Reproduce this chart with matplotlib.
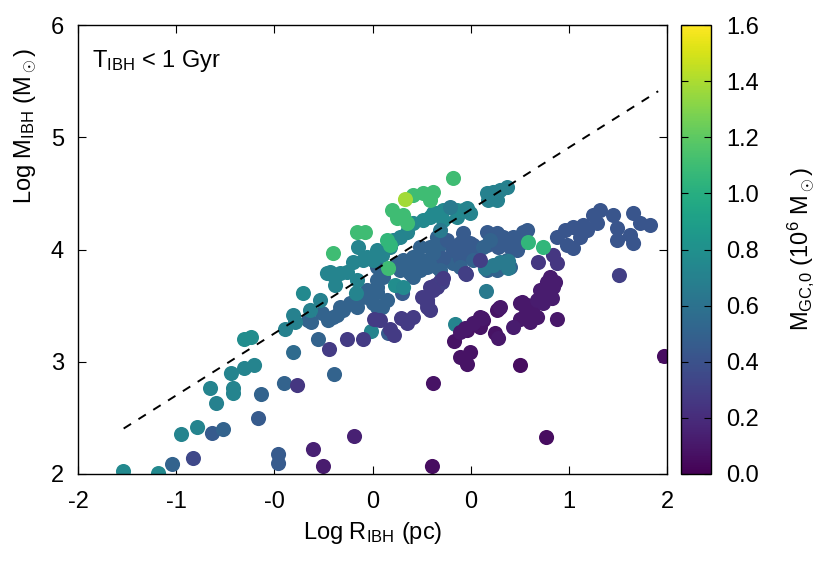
import matplotlib
matplotlib.use('Agg')
import matplotlib.pyplot as plt
import numpy as np

plt.rcParams['font.family'] = ['Liberation Sans', 'DejaVu Sans']
plt.rcParams['mathtext.fontset'] = 'custom'
plt.rcParams['mathtext.rm'] = 'Liberation Sans'
plt.rcParams['mathtext.it'] = 'Liberation Sans:italic'
plt.rcParams['mathtext.bf'] = 'Liberation Sans:bold'

# ---------------- data (Log R_IBH [pc], Log M_IBH [Msun], M_GC,0 [1e6 Msun]) ----------------
blue_r = [-1.358, -1.216, -1.087, -1.012, -0.754, -0.774, -0.598, -0.536, -0.435, -0.638, -0.638,
          -0.258, -0.367, 0.109, -0.414, -0.340, -0.299, -0.238, -0.197, -0.149, -0.102, -0.034,
          0.034, 0.068, 0.204, -0.217, -0.265, -0.102, 0.034, -0.034, 0.034, 0.034, 0.034, 0.075,
          0.034, 0.007, 0.102, 0.278, 0.238, 0.326, 0.441, 0.482, 0.394, 0.441, 0.326, 0.278,
          0.211, 0.170, 0.326, 0.374, 0.441, 0.509, 0.550, 0.618, 0.666, 0.598, 0.550, 0.618,
          0.666, 0.713, 0.781, 0.849, 0.890, 0.958, 1.025, 0.781, 0.856, 0.937, 0.985, 1.025,
          1.053, 0.509, 0.482, 0.598, 0.720, 0.686, 0.462, 0.598, 0.686, 0.754, 0.801, 0.917,
          0.849, 0.937, 0.781, 0.414, 0.374, 0.306, 0.258, 0.190]
blue_m = [2.085, 2.138, 2.361, 2.396, 2.708, 2.494, 2.806, 3.082, 3.367, 2.174, 2.093,
          2.886, 3.198, 3.252, 3.350, 3.430, 3.367, 3.412, 3.457, 3.519, 3.528, 3.572,
          3.617, 3.483, 3.608, 3.483, 3.394, 3.483, 3.483, 3.635, 3.661, 3.964, 3.840, 3.751,
          3.724, 3.519, 3.546, 3.751, 3.840, 3.813, 4.107, 4.053, 4.018, 3.964, 4.018, 3.929,
          3.902, 3.875, 3.902, 3.840, 3.840, 3.902, 3.875, 4.143, 4.053, 4.053, 3.991, 3.964,
          3.929, 3.947, 4.151, 4.143, 4.107, 4.107, 4.151, 4.036, 4.018, 4.018, 3.991, 4.062,
          4.169, 4.080, 3.920, 3.920, 3.929, 4.036, 3.813, 3.840, 3.902, 4.018, 4.080, 3.902,
          3.813, 3.840, 3.813, 3.964, 3.902, 3.875, 3.786, 3.813]
blue_c = [0.50, 0.35, 0.45, 0.50, 0.50, 0.45, 0.50, 0.55, 0.50, 0.45, 0.45,
          0.50, 0.50, 0.45, 0.50, 0.50, 0.50, 0.50, 0.50, 0.50, 0.50, 0.50,
          0.50, 0.50, 0.45, 0.50, 0.50, 0.50, 0.50, 0.50, 0.50, 0.50, 0.50, 0.50,
          0.50, 0.50, 0.50, 0.50, 0.50, 0.50, 0.50, 0.50, 0.50, 0.50, 0.50, 0.50,
          0.50, 0.50, 0.50, 0.50, 0.50, 0.50, 0.50, 0.45, 0.45, 0.45, 0.45, 0.45,
          0.45, 0.45, 0.45, 0.45, 0.45, 0.45, 0.45, 0.45, 0.45, 0.45, 0.45, 0.45,
          0.45, 0.45, 0.45, 0.45, 0.45, 0.45, 0.50, 0.50, 0.50, 0.50, 0.50, 0.50,
          0.50, 0.50, 0.50, 0.50, 0.50, 0.50, 0.50, 0.50]

tail_r = [1.256, 1.311, 1.365, 1.413, 1.460, 1.528, 1.501, 1.548, 1.433, 1.324, 1.365,
          1.637, 1.773, 1.820, 1.888, 1.664, 1.664, 1.752, 1.773]
tail_m = [4.107, 4.169, 4.196, 4.107, 4.169, 4.232, 4.303, 4.347, 4.214, 4.036, 4.009,
          4.303, 4.321, 4.232, 4.214, 4.187, 4.080, 4.125, 4.053]
tail_c = [0.42] * 19

teal_r = [-1.691, -1.453, -1.297, -1.188, -1.059, -1.100, -0.944, -0.944, -0.958, -0.869, -0.801,
          -0.869, -0.822, -0.591, -0.536, -0.523, -0.469, -0.353, -0.421, -0.306, -0.265, -0.251,
          -0.170, -0.102, -0.109, -0.095, -0.061, -0.129, -0.217, -0.285, -0.034, 0.034, 0.068,
          0.007, 0.122, 0.143, 0.190, 0.238, 0.278, 0.346, 0.394, 0.441, 0.482, 0.577, 0.618,
          0.666, 0.482, 0.577, 0.645, 0.781, 0.822, 0.869, 0.917, 0.849, 0.788, 0.462, 0.530,
          -0.007, 0.564, 0.774, 0.767, 0.822, 0.869, 0.924, 0.924, 0.156, 0.211, 0.414]
teal_m = [2.022, 2.004, 2.352, 2.414, 2.628, 2.762, 2.762, 2.717, 2.895, 2.940, 2.967,
          3.198, 3.216, 3.287, 3.412, 3.350, 3.608, 3.546, 3.457, 3.786, 3.768, 3.679,
          3.795, 3.724, 3.608, 4.018, 3.902, 3.884, 3.786, 3.795, 3.929, 3.991, 3.947,
          3.902, 4.018, 4.080, 4.107, 4.151, 4.232, 4.258, 4.285, 4.321, 4.258, 4.285, 4.347,
          4.321, 4.347, 4.347, 4.365, 4.499, 4.508, 4.526, 4.552, 4.437, 4.437, 4.169, 4.374,
          3.269, 3.332, 3.626, 3.831, 3.857, 3.884, 3.893, 3.831, 3.679, 3.661, 4.321]
teal_c = [0.75, 0.75, 0.72, 0.72, 0.70, 0.72, 0.72, 0.72, 0.72, 0.72, 0.72,
          0.78, 0.78, 0.70, 0.70, 0.70, 0.75, 0.70, 0.70, 0.72, 0.72, 0.72,
          0.72, 0.72, 0.72, 0.72, 0.72, 0.72, 0.72, 0.72, 0.72, 0.72, 0.72,
          0.72, 0.72, 0.72, 0.72, 0.72, 0.75, 0.75, 0.75, 0.75, 0.75, 0.72, 0.75,
          0.72, 0.75, 0.75, 0.72, 0.70, 0.70, 0.70, 0.70, 0.70, 0.70, 0.65, 0.65,
          0.72, 0.72, 0.65, 0.65, 0.65, 0.65, 0.65, 0.65, 0.78, 0.75, 0.75]

purple_r = [-0.509, -0.292, -0.170, -0.061, 0.149, 0.014, 0.054, 0.197, 0.278, 0.238, 0.122,
            0.340, 0.374, 0.394, 0.374, 0.428, 0.462, 0.441, 0.638, 0.475, 0.733, 0.632,
            0.394, 0.482, 0.374, 0.414, 0.862, 1.127, 1.229, 1.256, 1.677, -0.122, -0.401, -0.333]
purple_m = [2.788, 3.109, 3.198, 3.198, 3.234, 3.376, 3.367, 3.385, 3.394, 3.341, 3.287,
            3.572, 3.546, 3.457, 3.483, 3.679, 3.715, 3.661, 3.777, 3.706, 3.902, 3.786,
            3.661, 3.742, 3.519, 3.635, 3.474, 3.884, 3.947, 3.875, 3.768, 2.334, 2.218, 2.067]
purple_c = [0.25, 0.28, 0.28, 0.28, 0.28, 0.28, 0.28, 0.28, 0.28, 0.28, 0.28,
            0.28, 0.28, 0.28, 0.28, 0.28, 0.28, 0.28, 0.30, 0.30, 0.30, 0.30,
            0.28, 0.28, 0.28, 0.28, 0.20, 0.25, 0.25, 0.25, 0.30, 0.15, 0.15, 0.12]

dark_r = [0.414, 0.407, 0.557, 0.645, 0.733, 0.754, 0.598, 0.666, 0.645, 0.849, 0.835,
          0.747, 0.686, 0.632, 0.598, 0.856, 0.869, 1.005, 1.053, 0.733, 1.019, 1.053,
          1.093, 1.005, 1.073, 1.039, 1.121, 0.958, 1.121, 1.161, 1.222, 1.141, 1.188,
          1.229, 1.209, 1.243, 1.188, 1.256, 1.005, 1.182, 1.983]
dark_m = [2.806, 2.067, 3.180, 3.278, 3.305, 3.367, 3.038, 3.082, 2.975, 3.457, 3.252,
          3.385, 3.341, 3.296, 3.261, 3.207, 3.483, 3.519, 3.430, 3.394, 3.528, 3.501,
          3.483, 3.376, 3.350, 3.412, 3.394, 3.305, 3.546, 3.519, 3.563, 3.635, 3.635,
          3.661, 3.751, 3.706, 3.706, 3.376, 2.967, 2.325, 3.047]
dark_c = [0.08, 0.05, 0.08, 0.08, 0.08, 0.08, 0.08, 0.08, 0.08, 0.08, 0.08,
          0.10, 0.10, 0.10, 0.10, 0.10, 0.10, 0.10, 0.10, 0.10, 0.10, 0.10,
          0.10, 0.10, 0.10, 0.10, 0.10, 0.12, 0.12, 0.12, 0.12, 0.12, 0.12,
          0.12, 0.12, 0.12, 0.12, 0.10, 0.05, 0.05, 0.05]

green_r = [0.550, 0.278, 0.346, 0.414, 0.394, 0.136, 0.170, 0.211, 0.238, -0.102, -0.048,
           -0.265, 0.102, 0.122, 0.109, 1.059, 1.161, 0.224]
green_m = [4.633, 4.481, 4.499, 4.508, 4.437, 4.347, 4.276, 4.303, 4.232, 4.151, 4.151,
           3.964, 4.080, 4.036, 3.831, 4.062, 4.018, 4.445]
green_c = [1.10, 1.10, 1.10, 1.10, 1.10, 1.10, 1.10, 1.10, 1.10, 1.10, 1.10,
           1.10, 1.05, 1.05, 1.10, 1.05, 1.05, 1.38]

# dashed reference relation
line_r = [-1.69, 1.94]
line_m = [2.405, 5.41]

x_ticks = [-2, -4/3, -2/3, 0, 2/3, 4/3, 2]
x_tick_labels = ['-2', '-1', '-0', '0', '0', '1', '2']
y_ticks = [2, 3, 4, 5, 6]
cb_ticks = [0.0, 0.2, 0.4, 0.6, 0.8, 1.0, 1.2, 1.4, 1.6]

FS = 17

# ---------------- figure ----------------
fig = plt.figure(figsize=(8.3, 5.81), dpi=100)
ax = fig.add_axes([78/830, 1 - 474/581, 589/830, 449/581])
cax = fig.add_axes([681/830, 1 - 474/581, 30/830, 449/581])

all_r = blue_r + tail_r + teal_r + purple_r + dark_r + green_r
all_m = blue_m + tail_m + teal_m + purple_m + dark_m + green_m
all_c = blue_c + tail_c + teal_c + purple_c + dark_c + green_c

sc = ax.scatter(all_r, all_m, c=all_c, cmap='viridis', vmin=0, vmax=1.6,
                s=118, linewidths=0, zorder=2)
ax.plot(line_r, line_m, color='black', lw=1.4, ls=(0, (4.5, 4.5)), zorder=3)

ax.set_xlim(-2, 2)
ax.set_ylim(2, 6)
ax.set_xticks(x_ticks)
ax.set_xticklabels(x_tick_labels)
ax.set_yticks(y_ticks)
ax.tick_params(direction='in', top=True, right=True, length=6, width=0.8,
               labelsize=FS)
ax.tick_params(axis='y', pad=10)
ax.tick_params(axis='x', pad=12)
for sp in ax.spines.values():
    sp.set_linewidth(1.0)

ax.set_xlabel(r'Log R$_\mathrm{IBH}$ (pc)', fontsize=FS)
ax.xaxis.set_label_coords(0.5, -0.103)
ax.set_ylabel(r'Log M$_\mathrm{IBH}$ (M$_\odot$)', fontsize=FS)
ax.yaxis.set_label_coords(-0.066, 0.775)
ax.text(0.024, 0.906, r'T$_\mathrm{IBH}$ < 1 Gyr', transform=ax.transAxes,
        fontsize=FS, ha='left', va='baseline')

cb = fig.colorbar(sc, cax=cax)
cb.set_ticks(cb_ticks)
cb.ax.yaxis.set_major_formatter(matplotlib.ticker.FormatStrFormatter('%.1f'))
cax.tick_params(direction='in', left=True, right=True, length=5, width=0.8,
                labelsize=FS, pad=11)
cb.outline.set_linewidth(1.0)
cb.set_label(r'M$_\mathrm{GC{,}0}$ (10$^6$ M$_\odot$)', fontsize=FS)
cax.yaxis.set_label_coords(3.45, 0.5)

fig.savefig('out.png', dpi=100)
